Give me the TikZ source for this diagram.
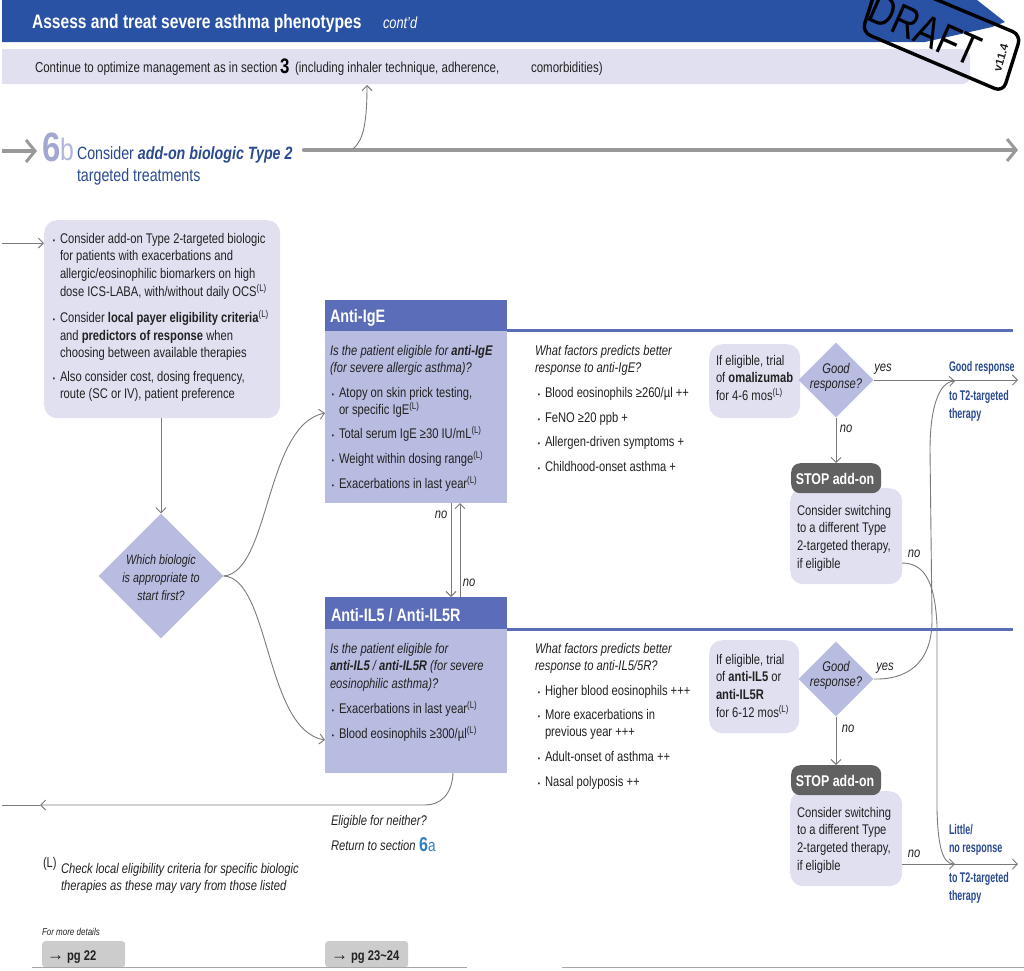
\documentclass[tikz,border=0pt]{standalone}
\usepackage{fontspec}
\setmainfont[FakeStretch=0.8]{Liberation Sans}
\newfontfamily\plainfont{Liberation Sans}
\newfontfamily\condfont[FakeStretch=0.64]{Liberation Sans}
\usetikzlibrary{arrows.meta,shapes.geometric}
\definecolor{hdrblue}{HTML}{2A52A4}
\definecolor{navy}{HTML}{2A4A90}
\definecolor{pale}{HTML}{E0E0F1}
\definecolor{mid}{HTML}{B8BCE0}
\definecolor{slate}{HTML}{5B6DB8}
\definecolor{six}{HTML}{A3A8D3}
\definecolor{sixa}{HTML}{2F7FC8}
\definecolor{linegray}{HTML}{7A7A7A}
\definecolor{ink}{HTML}{222222}
\newcommand{\Lsup}{\textsuperscript{(L)}}
\newcommand{\bul}{\llap{\fontsize{8}{8}\selectfont •\hspace{5pt}}}
\newcommand{\fs}[2]{\fontsize{#1}{#2}\selectfont}
\tikzset{
  x=1pt,y=-1pt,
  txt/.style={inner sep=0pt,outer sep=0pt,anchor=north west,align=left,text=ink,font=\fs{14}{17.8}},
  itxt/.style={txt,font=\fs{14}{17.8}\itshape},
  ctxt/.style={txt,anchor=center,align=center,font=\fs{13.5}{18}\itshape},
  gtxt/.style={txt,anchor=center,align=center,font=\fs{14}{15}\itshape},
  lab/.style={inner sep=0pt,anchor=center,text=ink,font=\fs{14}{16}\itshape},
  bluet/.style={txt,text=navy,font=\fs{14}{18}\condfont\bfseries},
  softbox/.style={draw=none,fill=pale,rounded corners=13pt,inner sep=0pt,anchor=north west},
  bodybox/.style={draw=none,fill=mid,inner sep=0pt,anchor=north west},
  headbox/.style={draw=none,fill=slate,inner sep=0pt,anchor=north west},
  stopbox/.style={draw=none,fill=black!62,rounded corners=9pt,inner sep=0pt,anchor=north west},
  stoptxt/.style={txt,anchor=center,text=white,font=\fs{15.5}{18}\bfseries},
  dia/.style={diamond,aspect=1,draw=none,fill=mid,inner sep=0pt},
  conn/.style={draw=linegray,line width=0.9pt,-{Straight Barb[length=5pt,width=10pt]}},
  plain/.style={draw=linegray,line width=0.9pt},
  thick gray/.style={draw=black!40,line width=4.5pt},
  pgbox/.style={draw=none,fill=black!20,rounded corners=3pt,inner sep=0pt,anchor=north west},
  pgtxt/.style={txt,anchor=base west,font=\fs{14}{16}\bfseries}
}
\begin{document}
\begin{tikzpicture}
\useasboundingbox (0,0) rectangle (1024,970);
\clip (0,0) rectangle (1024,970);
% header
\fill[hdrblue] (2,0) -- (977,0) -- (1005,22) -- (992,27) -- (925,42) -- (2,42) -- cycle;
\node[txt,anchor=base west,text=white,font=\fs{19.5}{22}\bfseries] (title) at (32,28) {Assess and treat severe asthma phenotypes};
\node[txt,anchor=base west,text=white,font=\fs{16}{20}\itshape] (contd) at (383,28) {cont’d};
\fill[pale,rounded corners=8pt] (2,49) -- (970,49) -- (970,84) -- (2,84) -- cycle;
\fill[pale] (2,49) rectangle (20,84);
\node[txt,anchor=base west,font=\fs{14.4}{17}] (cont) at (35,72) {Continue to optimize management as in section};
\node[txt,anchor=base west,font=\fs{21}{22}\bfseries,text=black] (three) at (280,73) {3};
\node[txt,anchor=base west,font=\fs{14.4}{17}] (incl) at (295,72) {(including inhaler technique, adherence,};
\node[txt,anchor=base west,font=\fs{14.4}{17}] (comor) at (531,72) {comorbidities)};
% draft stamp
\node[txt,anchor=center,font=\fs{44}{46},text=black,rotate=-24] (draft) at (925,30) {DRAFT};
\node[txt,anchor=center,font=\fs{11.5}{12}\plainfont\bfseries,text=ink,rotate=74] (ver) at (1001,58) {v11.4};
\draw[black,line width=3.4pt,rounded corners=9pt] (880,-24) -- (1021,35) -- (1003,92) -- (862,32) -- cycle;
% 6b
\coordinate (inL) at (2,151);
\coordinate (arrL) at (37,151);
\draw[thick gray,-{Straight Barb[length=9pt,width=22pt,line width=3pt]}] (inL) -- (arrL);
\node[txt,anchor=base west,font=\fs{41}{42}\bfseries,text=six] (six) at (42,161) {6};
\node[txt,anchor=base west,font=\fs{31}{32},text=six!85] (b) at (60,160) {b};
\node[txt,anchor=base west,text=navy,font=\fs{17.8}{22}] (cons) at (77,181) {Consider \textbf{\textit{add-on biologic Type 2}}\\targeted treatments};
\coordinate (mainA) at (304,150);
\coordinate (mainB) at (1018,150);
\coordinate (mainUp) at (353,149);
\coordinate (upEnd) at (367,85);
\draw[thick gray,line cap=round,-{Straight Barb[length=9pt,width=22pt,line width=3pt]}] (mainA) -- (mainB);
\draw[conn] (mainUp) .. controls (362,141) and (367,128) .. (upEnd);
% left box
\node[softbox,minimum width=236pt,minimum height=198pt] (left) at (44,220) {};
\coordinate (inBox) at (2,243);
\draw[conn] (inBox) -- (left.west |- inBox);
\node[txt] (lb1) at (60,233) {\bul Consider add-on Type 2-targeted biologic\\for patients with exacerbations and\\allergic/eosinophilic biomarkers on high\\dose ICS-LABA, with/without daily OCS\Lsup};
\node[txt] (lb2) at (60,310) {\bul Consider \textbf{local payer eligibility criteria}\Lsup\\and \textbf{predictors of response} when\\choosing between available therapies};
\node[txt] (lb3) at (60,371) {\bul Also consider cost, dosing frequency,\\route (SC or IV), patient preference};
% diamond
\node[dia,minimum width=125pt,minimum height=125pt] (which) at (161,576) {};
\node[ctxt] (whicht) at (161,578) {Which biologic\\is appropriate to\\start first?};
\draw[conn] (left.south -| which.north) -- (which.north);
% anti-IgE
\node[headbox,minimum width=182pt,minimum height=31pt] (igeH) at (325,300) {};
\node[bodybox,minimum width=182pt,minimum height=172pt] (igeB) at (325,331) {};
\node[txt,anchor=west,text=white,font=\fs{18}{20}\bfseries] (igeT) at (330,318) {Anti-IgE};
\coordinate (r1) at (1013,330.5);
\draw[slate,line width=3pt] (igeH.east |- r1) -- (r1);
\node[itxt] (ige1) at (330,345) {Is the patient eligible for \textbf{anti-IgE}\\(for severe allergic asthma)?};
\node[txt] (ige2) at (339,387) {\bul Atopy on skin prick testing,\\or specific IgE\Lsup};
\node[txt] (ige3) at (339,426) {\bul Total serum IgE ≥30 IU/mL\Lsup};
\node[txt] (ige4) at (339,451) {\bul Weight within dosing range\Lsup};
\node[txt] (ige5) at (339,476) {\bul Exacerbations in last year\Lsup};
% anti-IL5
\node[headbox,minimum width=182pt,minimum height=32pt] (ilH) at (325,597) {};
\node[bodybox,minimum width=182pt,minimum height=144pt] (ilB) at (325,629) {};
\node[txt,anchor=west,text=white,font=\fs{18}{20}\bfseries] (ilT) at (331,615) {Anti-IL5 / Anti-IL5R};
\coordinate (r2) at (1013,629);
\draw[slate,line width=3pt] (ilH.east |- r2) -- (r2);
\node[itxt] (il1) at (330,643) {Is the patient eligible for\\\textbf{anti-IL5} / \textbf{anti-IL5R} (for severe\\eosinophilic asthma)?};
\node[txt] (il2) at (339,701) {\bul Exacerbations in last year\Lsup};
\node[txt] (il3) at (339,726) {\bul Blood eosinophils ≥300/µl\Lsup};
% connectors from diamond
\coordinate (igeIn) at (igeB.west |- 0,413);
\coordinate (ilIn) at (ilB.west |- 0,740);
\draw[conn] (which.east) .. controls (270,572) and (265,425) .. (igeIn);
\draw[conn] (which.east) .. controls (270,578) and (265,730) .. (ilIn);
% between boxes
\coordinate (dA) at (451,503);
\coordinate (dB) at (451,597);
\coordinate (uA) at (460,597);
\coordinate (uB) at (460,503);
\draw[conn] (dA) -- (dB);
\draw[conn] (uA) -- (uB);
\node[lab] (no1) at (441,515) {no};
\node[lab] (no2) at (469,583) {no};
% factors
\node[itxt] (f1) at (535,345) {What factors predicts better\\response to anti-IgE?};
\node[txt] (f1a) at (545,387) {\bul Blood eosinophils ≥260/µl ++};
\node[txt] (f1b) at (545,412) {\bul FeNO ≥20 ppb +};
\node[txt] (f1c) at (545,436) {\bul Allergen-driven symptoms +};
\node[txt] (f1d) at (545,461) {\bul Childhood-onset asthma +};
\node[itxt] (f2) at (535,643) {What factors predicts better\\response to anti-IL5/5R?};
\node[txt] (f2a) at (545,685) {\bul Higher blood eosinophils +++};
\node[txt] (f2b) at (545,709) {\bul More exacerbations in\\previous year +++};
\node[txt] (f2c) at (545,751) {\bul Adult-onset of asthma ++};
\node[txt] (f2d) at (545,776) {\bul Nasal polyposis ++};
% right upper
\node[softbox,minimum width=91pt,minimum height=74pt] (t1) at (709,344) {};
\node[txt] (t1t) at (716,355) {If eligible, trial\\of \textbf{omalizumab}\\for 4-6 mos\Lsup};
\node[dia,minimum width=75pt,minimum height=75pt] (g1) at (836,380) {};
\node[gtxt] (g1t) at (836,377.5) {Good\\response?};
\node[softbox,minimum width=112pt,minimum height=96pt] (b1) at (790,488) {};
\node[stopbox,minimum width=90pt,minimum height=30pt] (s1) at (791,463) {};
\node[stoptxt] (s1t) at (835,479) {STOP add-on};
\node[txt] (b1t) at (797,505) {Consider switching\\to a different Type\\2-targeted therapy,\\if eligible};
\coordinate (yes1End) at (1018,381);
\draw[conn] (g1.east) -- (g1.east -| yes1End);
\draw[conn] (g1.south) -- (s1.north -| g1.south);
\node[lab] (yes1t) at (883,369) {yes};
\node[lab] (no3) at (846,429) {no};
\node[lab] (no4) at (914,554) {no};
% right lower
\node[softbox,minimum width=90pt,minimum height=93pt] (t2) at (709,640) {};
\node[txt] (t2t) at (716,654) {If eligible, trial\\of \textbf{anti-IL5} or\\\textbf{anti-IL5R}\\for 6-12 mos\Lsup};
\node[dia,minimum width=75pt,minimum height=75pt] (g2) at (836,679) {};
\node[gtxt] (g2t) at (836,675.5) {Good\\response?};
\node[softbox,minimum width=112pt,minimum height=95pt] (b2) at (790,791) {};
\node[stopbox,minimum width=90pt,minimum height=30pt] (s2) at (791,765) {};
\node[stoptxt] (s2t) at (835,781) {STOP add-on};
\node[txt] (b2t) at (797,807) {Consider switching\\to a different Type\\2-targeted therapy,\\if eligible};
\draw[conn] (g2.south) -- (s2.north -| g2.south);
\node[lab] (yes2t) at (885,668) {yes};
\node[lab] (no5) at (848,729) {no};
\node[lab] (no6) at (914,854) {no};
% outcomes
\coordinate (goodIn) at (955,381);
\coordinate (littleIn) at (955,864);
\coordinate (littleEnd) at (1018,864);
\coordinate (no4s) at (902,563);
\coordinate (no6s) at (902,864);
\draw[conn] (no6s) -- (littleEnd);
\draw[conn] (no4s) .. controls (926,563) and (935,585) .. (937,625) -- (937,810) .. controls (938,845) and (942,864) .. (littleIn);
\draw[conn] (g2.east) .. controls (905,680) and (932,665) .. (932,620) -- (930,450) .. controls (930,410) and (938,382) .. (goodIn);
\node[bluet] (gr) at (949,361) {Good response};
\node[bluet] (gr2) at (949,390) {to T2-targeted\\therapy};
\node[bluet] (lr) at (949,824) {Little/\\no response};
\node[bluet] (lr2) at (949,872) {to T2-targeted\\therapy};
% bottom return
\coordinate (ret) at (453,773);
\coordinate (retM) at (40,805);
\coordinate (retE) at (2,805);
\draw[conn] (ret) .. controls (452,795) and (440,805) .. (425,805) -- (retM);
\draw[plain] (retM) -- (retE);
\node[itxt] (elig) at (331,815) {Eligible for neither?};
\node[itxt,anchor=base west] (retn) at (331,850) {Return to section};
\node[txt,anchor=base west,font=\fs{20}{22}\bfseries,text=sixa] (sixn) at (419,851) {6};
\node[txt,anchor=base west,font=\fs{17}{22},text=sixa] (a) at (428,851) {a};
\node[txt,anchor=base west,font=\fs{14}{16}] (Lmark) at (43,867) {(L)};
\node[itxt] (Lnote) at (61,863) {Check local eligibility criteria for specific biologic\\therapies as these may vary from those listed};
\node[txt,anchor=base west,font=\fs{10}{12}\itshape] (more) at (42,935) {For more details};
\node[pgbox,minimum width=83pt,minimum height=26pt] (pg1) at (42,941) {};
\node[pgbox,minimum width=83pt,minimum height=26pt] (pg2) at (325,941) {};
\node[pgtxt] (pg1t) at (47,960) {{\plainfont\fs{17}{16}→} pg 22};
\node[pgtxt] (pg2t) at (331,960) {{\plainfont\fs{17}{16}→} pg 23\textasciitilde 24};
\coordinate (ba) at (32,967);
\coordinate (bb) at (467,967);
\coordinate (bc) at (562,967);
\coordinate (bd) at (1024,967);
\draw[black!35,line width=.8pt] (ba) -- (bb) (bc) -- (bd);
\end{tikzpicture}
\end{document}
